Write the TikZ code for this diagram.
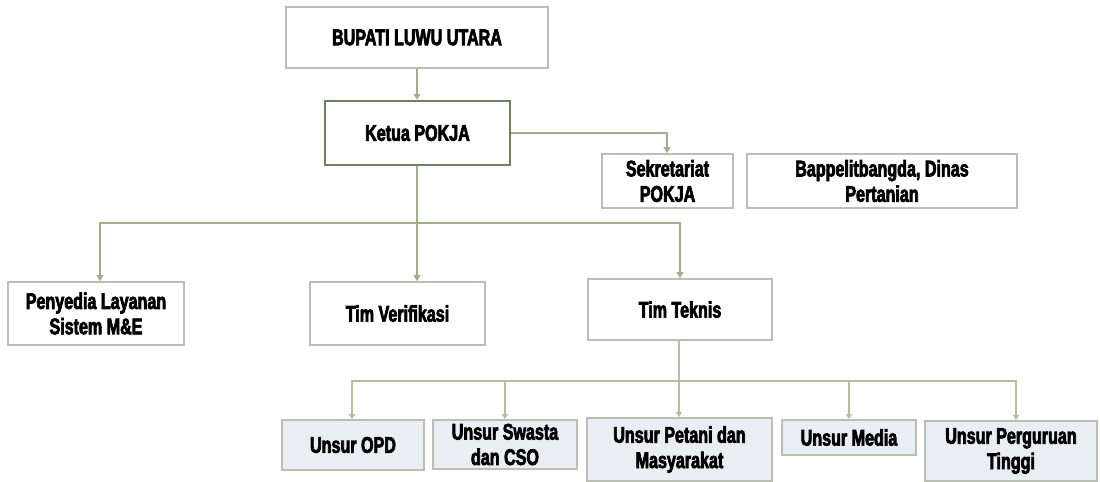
\documentclass[tikz,border=0pt]{standalone}
\usepackage{fontspec}
\newfontfamily\lbl{Liberation Sans}[FakeStretch=0.71,FakeBold=3]
\usetikzlibrary{arrows.meta}
\definecolor{lgreen}{HTML}{9DB08A}
\definecolor{dgreen}{HTML}{6E805E}
\definecolor{bgrey}{HTML}{B9BFB2}
\definecolor{bfill}{HTML}{E9EDF4}
\tikzset{
  box/.style={draw=bgrey, line width=1.2pt, fill=white, align=center, inner sep=0pt,
    font=\lbl\bfseries\fontsize{17}{19}\selectfont},
  mainbox/.style={box, draw=dgreen, line width=1.8pt},
  subbox/.style={box, fill=bfill},
  conn/.style={draw=lgreen, line width=1.4pt, -{Triangle[length=4.5pt,width=5pt]}},
  thin/.style={draw=lgreen!80, line width=1pt, -{Triangle[length=4pt,width=4.5pt]}},
}
\begin{document}
\begin{tikzpicture}[x=0.75pt,y=-0.75pt]
\useasboundingbox (0,0) rectangle (1100,482);
\def\bx#1#2#3#4#5#6#7{\node[#1, minimum width=(#5-#3)*0.75pt, minimum height=(#6-#4)*0.75pt] (#2) at ({(#3+#5)/2},{(#4+#6)/2}) {#7};}
\bx{box}{bup}{286}{7}{548}{68}{BUPATI LUWU UTARA}
\bx{mainbox}{ket}{325}{101}{510}{165}{Ketua POKJA}
\bx{box}{sek}{602}{154}{733}{208}{Sekretariat\\POKJA}
\bx{box}{bap}{747}{154}{1017}{208}{Bappelitbangda, Dinas\\Pertanian}
\bx{box}{pen}{8}{282}{184}{345}{Penyedia Layanan\\Sistem M\&E}
\bx{box}{ver}{310}{282}{485}{345}{Tim Verifikasi}
\bx{box}{tek}{588}{279}{772}{340}{Tim Teknis}
\bx{subbox}{opd}{282}{420}{424}{470}{Unsur OPD}
\bx{subbox}{swa}{433}{420}{577}{469}{Unsur Swasta\\dan CSO}
\bx{subbox}{pet}{587}{418}{772}{481}{Unsur Petani dan\\Masyarakat}
\bx{subbox}{med}{782}{420}{916}{455}{Unsur Media}
\bx{subbox}{per}{925}{421}{1097}{481}{Unsur Perguruan\\Tinggi}
\coordinate (j1) at (417,223);
\coordinate (j2) at (679,381);
\draw[conn] (bup.south -| 417,0) -- (ket.north -| 417,0);
\draw[conn] (ket.east |- 0,133) -- (667,133) -- (sek.north -| 667,0);
\draw[draw=lgreen, line width=1.4pt] (ket.south -| 417,0) -- (j1);
\draw[conn] (j1) -- (100,223) -- (pen.north -| 100,0);
\draw[conn] (j1) -- (ver.north -| 417,0);
\draw[conn] (j1) -- (680,223) -- (tek.north -| 680,0);
\draw[draw=lgreen!80, line width=1pt] (tek.south -| 679,0) -- (j2);
\draw[thin] (j2) -- (352,381) -- (opd.north -| 352,0);
\draw[thin] (505,381) -- (swa.north -| 505,0);
\draw[thin] (j2) -- (pet.north -| 679,0);
\draw[thin] (j2) -- (1016,381) -- (per.north -| 1016,0);
\draw[thin] (849,381) -- (med.north -| 849,0);
\end{tikzpicture}
\end{document}
